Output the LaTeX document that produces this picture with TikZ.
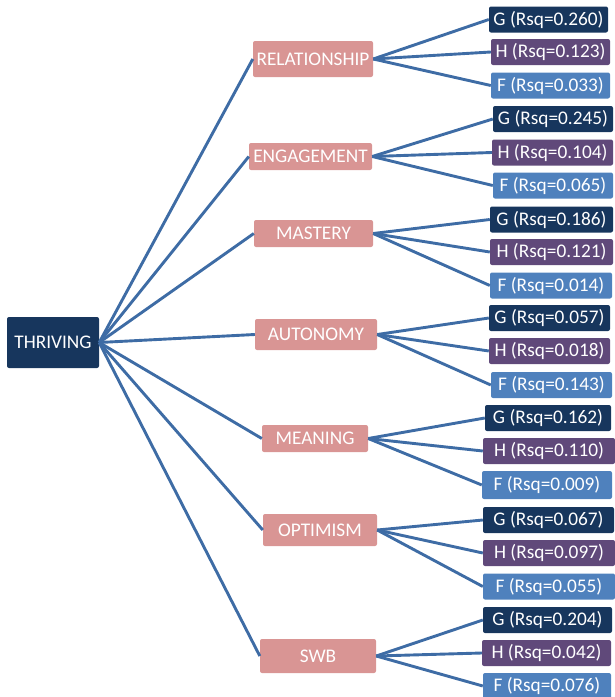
\documentclass[tikz,border=0pt]{standalone}
\usepackage{fontspec}
\setmainfont{Carlito}
\definecolor{navy}{RGB}{23,54,93}
\definecolor{purp}{RGB}{96,73,122}
\definecolor{lblue}{RGB}{79,129,189}
\definecolor{pink}{RGB}{217,149,148}
\definecolor{linec}{RGB}{62,108,165}
\begin{document}
\begin{tikzpicture}[x=1pt,y=-1pt,
  base/.style={rectangle,rounded corners=2pt,inner sep=0pt,text=white,
    font=\fontsize{19.3}{22}\selectfont},
  root/.style={base,fill=navy,minimum width=92pt,minimum height=51pt},
  mid/.style={base,fill=pink,minimum height=27pt},
  gleaf/.style={base,fill=navy,minimum height=26pt},
  hleaf/.style={base,fill=purp,minimum height=26pt},
  fleaf/.style={base,fill=lblue,minimum height=26pt},
  conn/.style={draw=linec,line width=2.9pt}]
\useasboundingbox (0,0) rectangle (615,697);
\node[root] (thr) at (53,342.5) {THRIVING};
% mid nodes
\node[mid,minimum width=120pt,minimum height=36pt] (rel) at (313,59) {RELATIONSHIP};
\node[mid,minimum width=123pt] (eng) at (310.5,156.5) {ENGAGEMENT};
\node[mid,minimum width=119pt] (mas) at (313.5,233.5) {MASTERY};
\node[mid,minimum width=122pt,minimum height=31pt] (aut) at (316,334.5) {AUTONOMY};
\node[mid,minimum width=106pt] (mea) at (315,438.5) {MEANING};
\node[mid,minimum width=114pt,minimum height=32pt] (opt) at (320,530) {OPTIMISM};
\node[mid,minimum width=116pt,minimum height=34pt] (swb) at (318,656) {SWB};
% leaves
\node[gleaf,minimum width=119pt] (g1) at (548.5,19.5) {G (Rsq=0.260)};
\node[hleaf,minimum width=119pt] (h1) at (550.5,52) {H (Rsq=0.123)};
\node[fleaf,minimum width=119pt] (f1) at (550.5,85.5) {F (Rsq=0.033)};
\node[gleaf,minimum width=120pt] (g2) at (553,119) {G (Rsq=0.245)};
\node[hleaf,minimum width=121pt] (h2) at (552.5,152.5) {H (Rsq=0.104)};
\node[fleaf,minimum width=120pt] (f2) at (553,185.5) {F (Rsq=0.065)};
\node[gleaf,minimum width=123pt] (g3) at (551.5,219.5) {G (Rsq=0.186)};
\node[hleaf,minimum width=123pt] (h3) at (551.5,252) {H (Rsq=0.121)};
\node[fleaf,minimum width=122pt] (f3) at (551,285.5) {F (Rsq=0.014)};
\node[gleaf,minimum width=121pt] (g4) at (549.5,318) {G (Rsq=0.057)};
\node[hleaf,minimum width=121pt] (h4) at (549.5,351) {H (Rsq=0.018)};
\node[fleaf,minimum width=121pt] (f4) at (551.5,385) {F (Rsq=0.143)};
\node[gleaf,minimum width=126pt] (g5) at (548,418) {G (Rsq=0.162)};
\node[hleaf,minimum width=132pt] (h5) at (549,451) {H (Rsq=0.110)};
\node[fleaf,minimum width=130pt,minimum height=28pt] (f5) at (547,485) {F (Rsq=0.009)};
\node[gleaf,minimum width=131pt] (g6) at (548.5,520) {G (Rsq=0.067)};
\node[hleaf,minimum width=132pt] (h6) at (549,553) {H (Rsq=0.097)};
\node[fleaf,minimum width=132pt] (f6) at (549,586.5) {F (Rsq=0.055)};
\node[gleaf,minimum width=129pt] (g7) at (547.5,620) {G (Rsq=0.204)};
\node[hleaf,minimum width=129pt] (h7) at (546.5,653) {H (Rsq=0.042)};
\node[fleaf,minimum width=128pt] (f7) at (547,686) {F (Rsq=0.076)};
% connectors
\foreach \m in {rel,eng,mas,aut,mea,opt,swb}
  \draw[conn] (thr.east) -- (\m.west);
\foreach \m/\i in {rel/1,eng/2,mas/3,aut/4,mea/5,opt/6,swb/7}{
  \draw[conn] (\m.east) -- (g\i.west);
  \draw[conn] (\m.east) -- (h\i.west);
  \draw[conn] (\m.east) -- (f\i.west);
}
\end{tikzpicture}
\end{document}
